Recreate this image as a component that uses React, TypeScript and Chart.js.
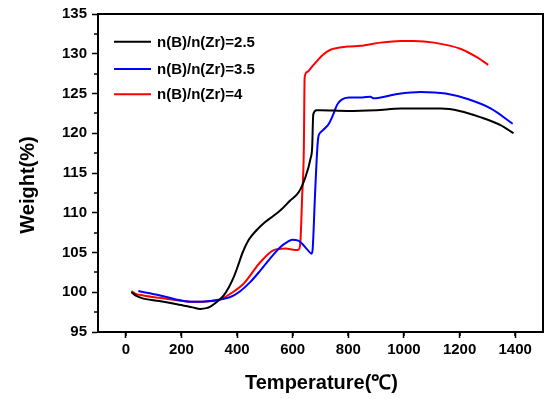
import React, { useEffect, useRef } from "react";
import { Chart, registerables } from "chart.js";

Chart.register(...registerables);

const seriesLabels = ["n(B)/n(Zr)=2.5", "n(B)/n(Zr)=3.5", "n(B)/n(Zr)=4"];
const seriesColors = ["#000000", "#0000ff", "#ff0000"];

const blackT = [20, 40, 63, 120, 184, 240, 268, 290, 304, 328, 352, 370, 388, 405, 420, 442, 470, 500, 530, 556, 590, 622, 646, 664, 670, 674, 686, 700, 796, 900, 989, 1049, 1133, 1200, 1277, 1349, 1394];
const blackW = [100.0, 99.5, 99.2, 98.9, 98.5, 98.1, 97.9, 98.0, 98.2, 98.8, 99.6, 100.6, 101.9, 103.5, 105.0, 106.6, 107.8, 108.8, 109.6, 110.3, 111.5, 112.6, 114.5, 116.8, 118.2, 122.4, 122.9, 122.9, 122.8, 122.9, 123.1, 123.1, 123.1, 122.8, 122.0, 121.0, 120.0];

const blueT = [45, 80, 124, 180, 232, 270, 304, 340, 376, 410, 448, 484, 520, 556, 580, 598, 620, 634, 652, 668, 672, 680, 688, 692, 700, 715, 730, 745, 760, 775, 802, 850, 880, 890, 977, 1061, 1150, 1229, 1313, 1391];
const blueW = [100.15, 99.9, 99.6, 99.1, 98.8, 98.8, 98.9, 99.1, 99.4, 100.1, 101.3, 102.75, 104.3, 105.7, 106.3, 106.6, 106.5, 106.1, 105.4, 104.85, 105.5, 112.0, 117.8, 119.5, 120.1, 120.6, 121.2, 122.3, 123.6, 124.2, 124.5, 124.5, 124.6, 124.4, 124.95, 125.2, 125.0, 124.3, 123.1, 121.2];

const redT = [20, 35, 63, 120, 184, 240, 280, 310, 340, 380, 424, 484, 532, 574, 610, 622, 628, 634, 640, 643, 652, 670, 688, 710, 736, 796, 844, 916, 989, 1036, 1108, 1205, 1265, 1303];
const redW = [100.15, 99.8, 99.6, 99.3, 99.0, 98.8, 98.8, 98.9, 99.1, 99.9, 101.1, 103.8, 105.3, 105.5, 105.3, 105.4, 106.5, 112.0, 117.8, 127.0, 127.7, 128.4, 129.1, 129.9, 130.5, 130.9, 131.0, 131.4, 131.6, 131.6, 131.4, 130.6, 129.5, 128.6];

const xMin = -100;
const xMax = 1500;
const yMin = 95;
const yMax = 135;
const xTitle = "Temperature(℃)";
const yTitle = "Weight(%)";

const FONT = "'Liberation Sans', Arial, sans-serif";

const zip = (t: number[], w: number[]) => t.map((x, i) => ({ x, y: w[i] }));

const decorPlugin = {
  id: "decor",
  afterDraw(chart: any) {
    const { ctx, chartArea } = chart;
    const xs = chart.scales.x;
    const ys = chart.scales.y;
    ctx.save();
    // frame top and right
    ctx.strokeStyle = "#000";
    ctx.lineWidth = 2;
    ctx.beginPath();
    ctx.moveTo(chartArea.left - 1, chartArea.top);
    ctx.lineTo(chartArea.right, chartArea.top);
    ctx.lineTo(chartArea.right, chartArea.bottom + 1);
    ctx.stroke();
    // minor ticks
    ctx.lineWidth = 1.5;
    ctx.beginPath();
    for (let v = xMin + 100; v < xMax; v += 200) {
      const px = Math.round(xs.getPixelForValue(v));
      ctx.moveTo(px, chartArea.bottom);
      ctx.lineTo(px, chartArea.bottom + 4);
    }
    for (let v = yMin + 2.5; v < yMax; v += 5) {
      const py = Math.round(ys.getPixelForValue(v));
      ctx.moveTo(chartArea.left, py);
      ctx.lineTo(chartArea.left - 4, py);
    }
    ctx.stroke();
    // legend
    const rows = [41.7, 69, 94.3];
    ctx.font = `bold 15px ${FONT}`;
    ctx.textBaseline = "middle";
    ctx.textAlign = "left";
    chart.data.datasets.forEach((ds: any, i: number) => {
      ctx.strokeStyle = ds.borderColor;
      ctx.lineWidth = 2;
      ctx.beginPath();
      ctx.moveTo(114, rows[i]);
      ctx.lineTo(151, rows[i]);
      ctx.stroke();
      ctx.fillStyle = "#000";
      ctx.fillText(ds.label, 157, rows[i] + 1);
    });
    // axis titles
    ctx.font = `bold 20px ${FONT}`;
    ctx.textAlign = "center";
    ctx.fillText(xTitle, 321.5, 383.5);
    ctx.translate(28, 185);
    ctx.rotate(-Math.PI / 2);
    ctx.fillText(yTitle, 0, 0);
    ctx.restore();
  },
};

export default function App() {
  const ref = useRef<HTMLCanvasElement>(null);
  useEffect(() => {
    if (!ref.current) return;
    const datasets = [zip(blackT, blackW), zip(blueT, blueW), zip(redT, redW)].map((d, i) => ({
      label: seriesLabels[i],
      data: d,
      borderColor: seriesColors[i],
      backgroundColor: seriesColors[i],
      borderWidth: 2,
      pointRadius: 0,
      cubicInterpolationMode: "monotone" as const,
      fill: false,
    }));
    const chart = new Chart(ref.current, {
      type: "line",
      data: { datasets },
      plugins: [decorPlugin],
      options: {
        responsive: false,
        animation: false,
        layout: { padding: { top: 13, right: 11, left: 0, bottom: 0 } },
        plugins: { legend: { display: false }, tooltip: { enabled: false } },
        scales: {
          x: {
            type: "linear",
            min: xMin,
            max: xMax,
            afterFit: (s: any) => {
              s.height = 67;
            },
            ticks: {
              stepSize: 100,
              autoSkip: false,
              maxRotation: 0,
              padding: 3,
              color: "#000",
              font: { family: FONT, size: 15, weight: "bold" },
              callback: (v: any) => (v % 200 === 0 && v >= 0 && v <= 1400 ? String(v) : ""),
            },
            grid: {
              drawOnChartArea: false,
              drawTicks: true,
              tickLength: 6,
              tickWidth: 1.5,
              tickColor: (c: any) => (c.tick && c.tick.value % 200 === 0 && c.tick.value > xMin ? "#000" : "rgba(0,0,0,0)"),
            },
            border: { color: "#000", width: 2 },
          },
          y: {
            type: "linear",
            min: yMin,
            max: yMax,
            afterFit: (s: any) => {
              s.width = 98;
            },
            ticks: {
              stepSize: 2.5,
              autoSkip: false,
              padding: 5,
              color: "#000",
              font: { family: FONT, size: 15, weight: "bold" },
              callback: (v: any) => (v % 5 === 0 ? String(v) : ""),
            },
            grid: {
              drawOnChartArea: false,
              drawTicks: true,
              tickLength: 6,
              tickWidth: 1.5,
              tickColor: (c: any) => (c.tick && c.tick.value % 5 === 0 ? "#000" : "rgba(0,0,0,0)"),
            },
            border: { color: "#000", width: 2 },
          },
        },
      },
    });
    return () => chart.destroy();
  }, []);
  return (
    <div style={{ position: "fixed", left: 0, top: 0, width: 554, height: 399, background: "#fff" }}>
      <canvas ref={ref} width={554} height={399} style={{ display: "block", width: 554, height: 399 }} />
    </div>
  );
}
